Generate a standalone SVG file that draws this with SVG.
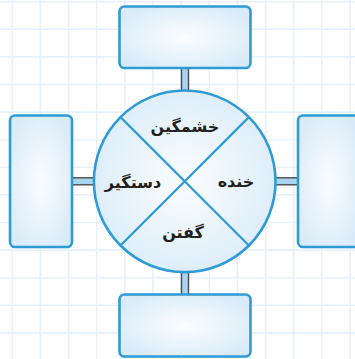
<svg xmlns="http://www.w3.org/2000/svg" width="355" height="359" viewBox="0 0 355 359">
<defs>
<radialGradient id="g" cx="50%" cy="50%" r="60%">
<stop offset="0" stop-color="#fbfdff"/>
<stop offset="1" stop-color="#d8ebf8"/>
</radialGradient>
<style>
.grid line{stroke:#e6f1fb;stroke-width:1.6}
.box{fill:url(#g);stroke:#2f9bd6;stroke-width:2.6}
.conn rect{fill:#a9d5f0}
.conn line{stroke:#4a4a4a;stroke-width:1.4}
.div{stroke:#2f9bd6;stroke-width:2.2;fill:none}
.lbl{font-family:"DejaVu Sans",sans-serif;font-size:16px;font-weight:bold;fill:#231f20;text-anchor:middle}
</style>
</defs>
<rect width="355" height="359" fill="#ffffff"/>
<g class="grid">
<line x1="12.3" y1="0" x2="12.3" y2="359"/>
<line x1="40.4" y1="0" x2="40.4" y2="359"/>
<line x1="68.6" y1="0" x2="68.6" y2="359"/>
<line x1="96.7" y1="0" x2="96.7" y2="359"/>
<line x1="124.9" y1="0" x2="124.9" y2="359"/>
<line x1="153" y1="0" x2="153" y2="359"/>
<line x1="181.1" y1="0" x2="181.1" y2="359"/>
<line x1="209.3" y1="0" x2="209.3" y2="359"/>
<line x1="237.4" y1="0" x2="237.4" y2="359"/>
<line x1="265.6" y1="0" x2="265.6" y2="359"/>
<line x1="293.7" y1="0" x2="293.7" y2="359"/>
<line x1="321.8" y1="0" x2="321.8" y2="359"/>
<line x1="350" y1="0" x2="350" y2="359"/>
<line x1="0" y1="1.7" x2="355" y2="1.7"/>
<line x1="0" y1="29.3" x2="355" y2="29.3"/>
<line x1="0" y1="56.9" x2="355" y2="56.9"/>
<line x1="0" y1="84.5" x2="355" y2="84.5"/>
<line x1="0" y1="112.1" x2="355" y2="112.1"/>
<line x1="0" y1="139.7" x2="355" y2="139.7"/>
<line x1="0" y1="167.3" x2="355" y2="167.3"/>
<line x1="0" y1="194.9" x2="355" y2="194.9"/>
<line x1="0" y1="222.5" x2="355" y2="222.5"/>
<line x1="0" y1="250.1" x2="355" y2="250.1"/>
<line x1="0" y1="277.7" x2="355" y2="277.7"/>
<line x1="0" y1="305.3" x2="355" y2="305.3"/>
<line x1="0" y1="332.9" x2="355" y2="332.9"/>
</g>
<g id="connectors" class="conn">
<rect x="181.5" y="67" width="7" height="25"/>
<line x1="181.5" y1="67" x2="181.5" y2="92"/>
<line x1="188.5" y1="67" x2="188.5" y2="92"/>
<rect x="181.5" y="270" width="7" height="26"/>
<line x1="181.5" y1="270" x2="181.5" y2="296"/>
<line x1="188.5" y1="270" x2="188.5" y2="296"/>
<rect x="71" y="177.8" width="25" height="7"/>
<line x1="71" y1="177.8" x2="96" y2="177.8"/>
<line x1="71" y1="184.8" x2="96" y2="184.8"/>
<rect x="273" y="177.8" width="26" height="7"/>
<line x1="273" y1="177.8" x2="299" y2="177.8"/>
<line x1="273" y1="184.8" x2="299" y2="184.8"/>
</g>
<g id="box-top"><rect class="box" x="119.5" y="6.5" width="131" height="61.5" rx="5"/></g>
<g id="box-bottom"><rect class="box" x="119.5" y="294.5" width="131" height="62" rx="5"/></g>
<g id="box-left"><rect class="box" x="10" y="115.5" width="62" height="131.5" rx="5"/></g>
<g id="box-right"><rect class="box" x="298" y="115.5" width="62" height="131.5" rx="5"/></g>
<g id="circle">
<circle class="box" cx="184.7" cy="181.3" r="90.8"/>
<line class="div" x1="120.5" y1="117.1" x2="248.9" y2="245.5"/>
<line class="div" x1="248.9" y1="117.1" x2="120.5" y2="245.5"/>
<text class="lbl" x="185" y="132">خشمگین</text>
<text class="lbl" x="236" y="187">خنده</text>
<text class="lbl" x="133" y="188">دستگیر</text>
<text class="lbl" x="183" y="238">گفتن</text>
</g>
</svg>
